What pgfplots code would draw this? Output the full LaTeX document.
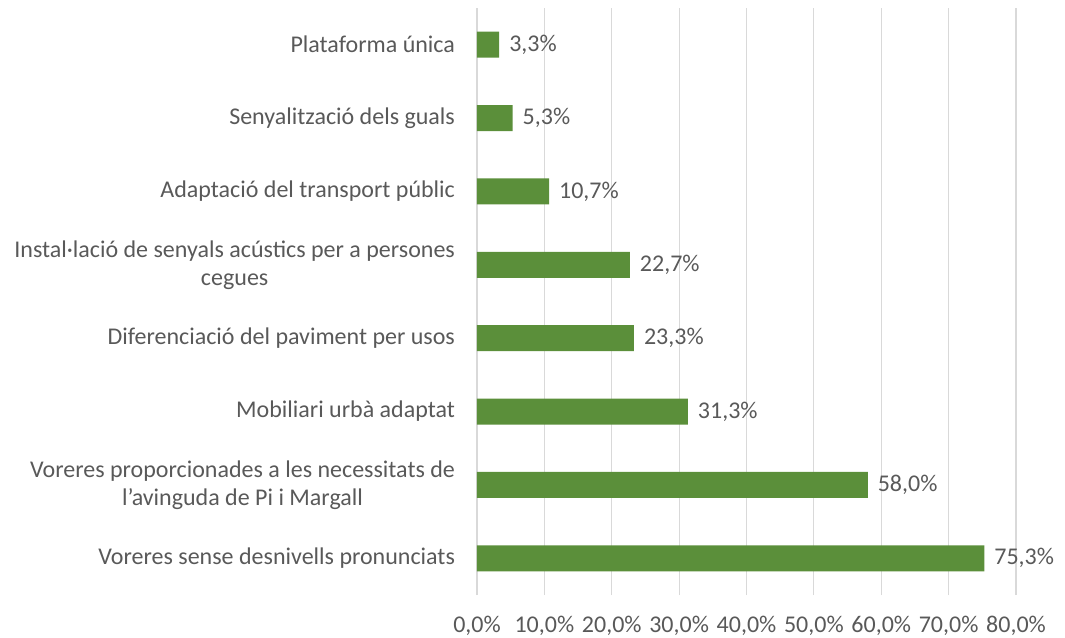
\documentclass[border=0pt]{standalone}
\usepackage{pgfplots}
\pgfplotsset{compat=1.18}
\usepackage{fontspec}
\setmainfont{Carlito}
\definecolor{bargreen}{HTML}{5B8F3A}
\definecolor{txt}{HTML}{595959}
\definecolor{gridc}{HTML}{D9D9D9}
\begin{document}
\begin{tikzpicture}
\begin{axis}[
  at={(0,0)}, anchor=south west,
  scale only axis, width=404.25pt, height=440.25pt,
  xbar, bar width=19.5pt,
  xmin=0, xmax=80, ymin=-0.5, ymax=7.5,
  enlarge y limits=false,
  axis line style={draw=none},
  xmajorgrids, grid style={gridc, line width=0.9pt},
  major tick length=0pt,
  xtick={0,10,...,80},
  ytick={0,...,7},
  /pgf/number format/assume math mode=true,
  xticklabel={\pgfmathprintnumber[fixed,fixed zerofill,precision=1,use comma]{\tick}\%},
  xticklabel style={font=\fontsize{18}{21}\selectfont, text=txt, yshift=-12pt},
  yticklabels={
    Voreres sense desnivells pronunciats,
    {Voreres proporcionades a les necessitats de\\l’avinguda de Pi i Margall},
    Mobiliari urbà adaptat,
    Diferenciació del paviment per usos,
    {Instal·lació de senyals acústics per a persones\\cegues},
    Adaptació del transport públic,
    Senyalització dels guals,
    Plataforma única},
  yticklabel style={font=\fontsize{18}{21}\selectfont, text=txt, align=center, xshift=-13pt},
  nodes near coords={\pgfmathprintnumber[fixed,fixed zerofill,precision=1,use comma]{\pgfplotspointmeta}\%},
  nodes near coords style={font=\fontsize{18}{21}\selectfont, text=txt, anchor=west, xshift=4pt},
  point meta=x,
  clip=false,
]
\addplot[fill=bargreen, draw=none] coordinates {
  (75.3,0) (58.0,1) (31.3,2) (23.3,3) (22.7,4) (10.7,5) (5.3,6) (3.3,7)
};
\end{axis}
\pgfresetboundingbox
\useasboundingbox (-357.75pt,-31.5pt) rectangle (441pt,446.25pt);
\end{tikzpicture}
\end{document}
